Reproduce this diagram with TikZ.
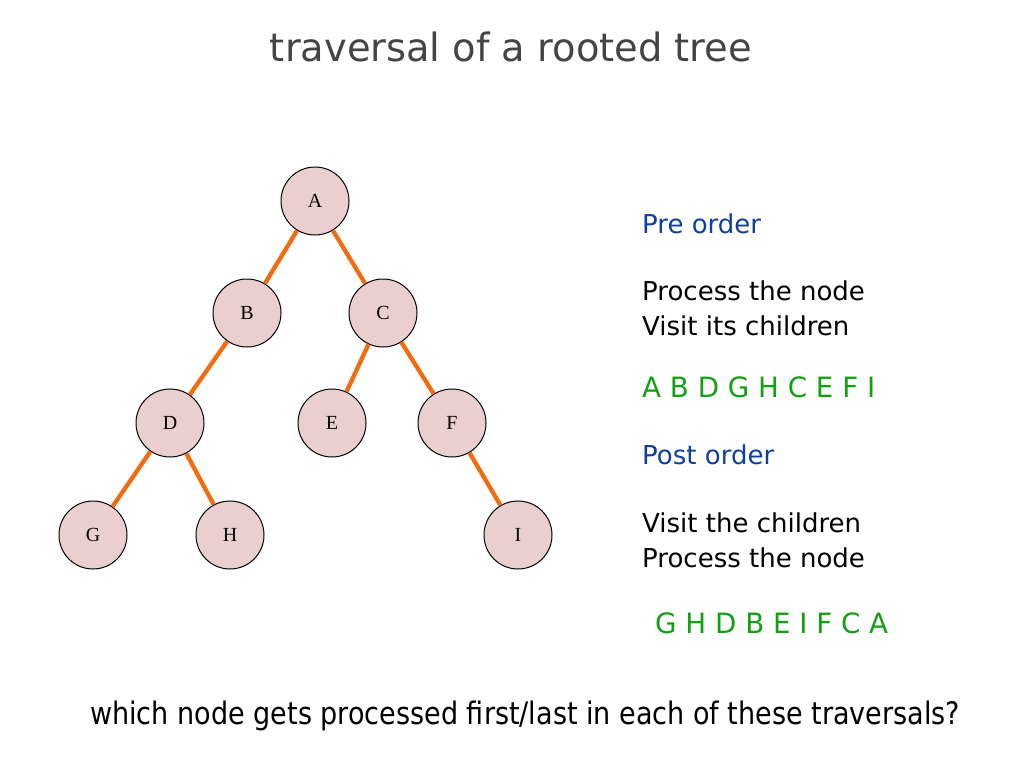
\documentclass[tikz,border=0pt]{standalone}
\usepackage{fontspec}
\usepackage{graphicx}
\setmainfont{DejaVu Sans}
\newfontfamily\nodefont{Liberation Serif}
\definecolor{nodefill}{HTML}{EBCFD0}
\definecolor{edgeor}{HTML}{F26B0F}
\definecolor{headblue}{HTML}{0E3E9E}
\definecolor{seqgreen}{HTML}{12A012}
\definecolor{titlegrey}{HTML}{444444}
\tikzset{
  tnode/.style={circle, draw=black, line width=1pt, fill=nodefill, minimum size=68pt, inner sep=0pt, font=\nodefont\fontsize{20}{23}\selectfont},
  tedge/.style={draw=edgeor, line width=4.3pt},
  txt/.style={anchor=base west, inner sep=0pt, font=\fontsize{26}{30}\selectfont},
  head/.style={txt, text=headblue},
  seq/.style={txt, text=seqgreen, font=\fontsize{28}{32}\selectfont}
}
\begin{document}
\begin{tikzpicture}[x=1pt,y=-1pt]
\useasboundingbox (0,0) rectangle (1024,768);
\node[anchor=base, inner sep=0pt, text=titlegrey, font=\fontsize{39}{44}\selectfont] (title) at (511,62) {\resizebox{482pt}{\height}{traversal of a rooted tree}};
\node[tnode] (A) at (315,201) {A};
\node[tnode] (B) at (247,313) {B};
\node[tnode] (C) at (383,313) {C};
\node[tnode] (D) at (170,423) {D};
\node[tnode] (E) at (332,423) {E};
\node[tnode] (F) at (452,423) {F};
\node[tnode] (G) at (93,535) {G};
\node[tnode] (H) at (230,535) {H};
\node[tnode] (I) at (518,535) {I};
\draw[tedge] (A) -- (B);
\draw[tedge] (A) -- (C);
\draw[tedge] (B) -- (D);
\draw[tedge] (C) -- (E);
\draw[tedge] (C) -- (F);
\draw[tedge] (D) -- (G);
\draw[tedge] (D) -- (H);
\draw[tedge] (F) -- (I);
\node[head] (pre) at (642,233) {Pre order};
\node[txt] (pre1) at (642,300) {Process the node};
\node[txt] (pre2) at (642,335) {Visit its children};
\node[seq] (preseq) at (642,397) {\resizebox{233pt}{\height}{A B D G H C E F I}};
\node[head] (post) at (642,464) {Post order};
\node[txt] (post1) at (642,532) {Visit the children};
\node[txt] (post2) at (642,567) {Process the node};
\node[seq] (postseq) at (655,633) {\resizebox{233pt}{\height}{G H D B E I F C A}};
\node[anchor=base west, inner sep=0pt, font=\fontsize{31}{34}\selectfont] (q) at (90,724) {\resizebox{870pt}{\height}{which node gets processed first/last in each of these traversals?}};
\end{tikzpicture}
\end{document}
